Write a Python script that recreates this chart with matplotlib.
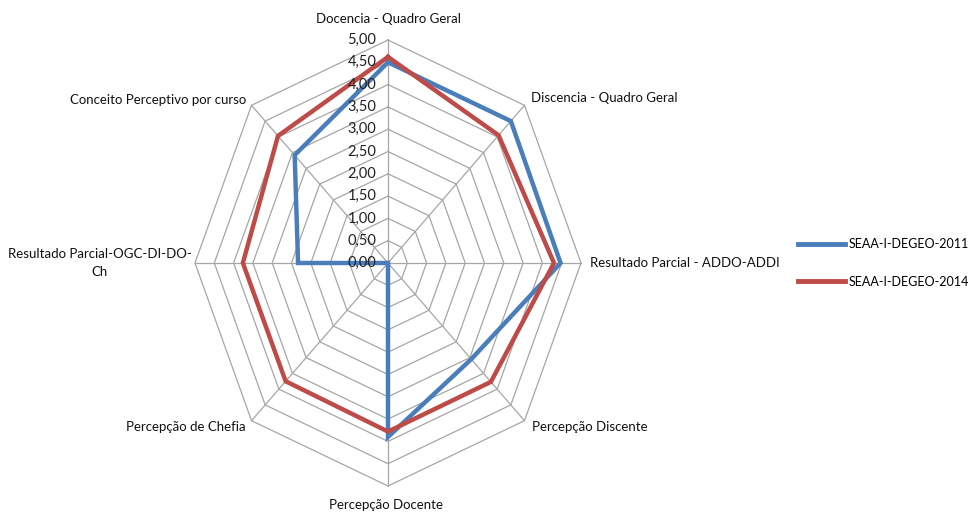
import numpy as np
import matplotlib
matplotlib.use("Agg")
import matplotlib.pyplot as plt

categories = ["Docencia - Quadro Geral", "Discencia - Quadro Geral",
              "Resultado Parcial - ADDO-ADDI", "Percepção Discente",
              "Percepção Docente", "Percepção de Chefia",
              "Resultado Parcial-OGC-DI-DO-\nCh", "Conceito Perceptivo por curso"]
series_names = ["SEAA-I-DEGEO-2011", "SEAA-I-DEGEO-2014"]
values_2011 = [4.50, 4.50, 4.47, 3.05, 3.90, 0.00, 2.33, 3.42]
values_2014 = [4.62, 4.05, 4.30, 3.77, 3.78, 3.75, 3.76, 4.03]
tick_values = [0.0, 0.5, 1.0, 1.5, 2.0, 2.5, 3.0, 3.5, 4.0, 4.5, 5.0]
tick_labels = ["0,00", "0,50", "1,00", "1,50", "2,00", "2,50", "3,00", "3,50", "4,00", "4,50", "5,00"]

plt.rcParams['font.family'] = ['Lato', 'DejaVu Sans']

W, H = 973, 515
fig = plt.figure(figsize=(W / 100, H / 100), dpi=100)

cx, cy = 388, 515 - 263
rx, ry = 193 / 5, 223 / 5
lim = 5.5
ax = fig.add_axes([(cx - lim * rx) / W, (cy - lim * ry) / H, 2 * lim * rx / W, 2 * lim * ry / H])
ax.set_xlim(-lim, lim)
ax.set_ylim(-lim, lim)
ax.axis('off')

n = len(categories)
ang = np.arange(n) * 2 * np.pi / n
sx, sy = np.sin(ang), np.cos(ang)

grid_c = '#a6a6a6'
for t in tick_values[1:]:
    ax.plot(np.append(t * sx, t * sx[0]), np.append(t * sy, t * sy[0]), color=grid_c, lw=0.9, zorder=1)
rmax = tick_values[-1]
for i in range(n):
    ax.plot([0, rmax * sx[i]], [0, rmax * sy[i]], color=grid_c, lw=0.9, zorder=1)

colors = ['#4a7ebb', '#be4b48']
for vals, c, name in zip([values_2011, values_2014], colors, series_names):
    v = np.array(vals)
    ax.plot(np.append(v * sx, v[0] * sx[0]), np.append(v * sy, v[0] * sy[0]),
            color=c, lw=3.2, zorder=3, label=name, solid_joinstyle='miter')

for t, lab in zip(tick_values, tick_labels):
    ax.text(-0.3, t, lab, ha='right', va='center', fontsize=10.5, color='#222222', zorder=4)

fs = 9.5
pos = [((388 - cx) / rx, (cy - (515 - 19)) / -ry, 'center'),
       ((531 - cx) / rx, ((515 - 98) - cy) / ry, 'left'),
       ((590 - cx) / rx, ((515 - 263) - cy) / ry, 'left'),
       ((532 - cx) / rx, ((515 - 427) - cy) / ry, 'left'),
       ((386 - cx) / rx, ((515 - 505) - cy) / ry, 'center'),
       ((246 - cx) / rx, ((515 - 427) - cy) / ry, 'right'),
       ((100 - cx) / rx, ((515 - 263) - cy) / ry, 'center'),
       ((246 - cx) / rx, ((515 - 100) - cy) / ry, 'right')]
for lab, (x, y, ha) in zip(categories, pos):
    ax.text(x, y, lab, ha=ha, va='center', fontsize=fs, color='#111111',
            multialignment='center', linespacing=1.55, clip_on=False)

lfs = 9
leg = fig.legend(loc='center left', bbox_to_anchor=(789 / W, 1 - 263 / H), frameon=False,
                 fontsize=lfs, handlelength=3.8, labelspacing=2.0, handletextpad=0.3,
                 borderpad=0.2)
for line in leg.get_lines():
    line.set_linewidth(3.5)

fig.savefig('out.png', dpi=100, facecolor='white')
